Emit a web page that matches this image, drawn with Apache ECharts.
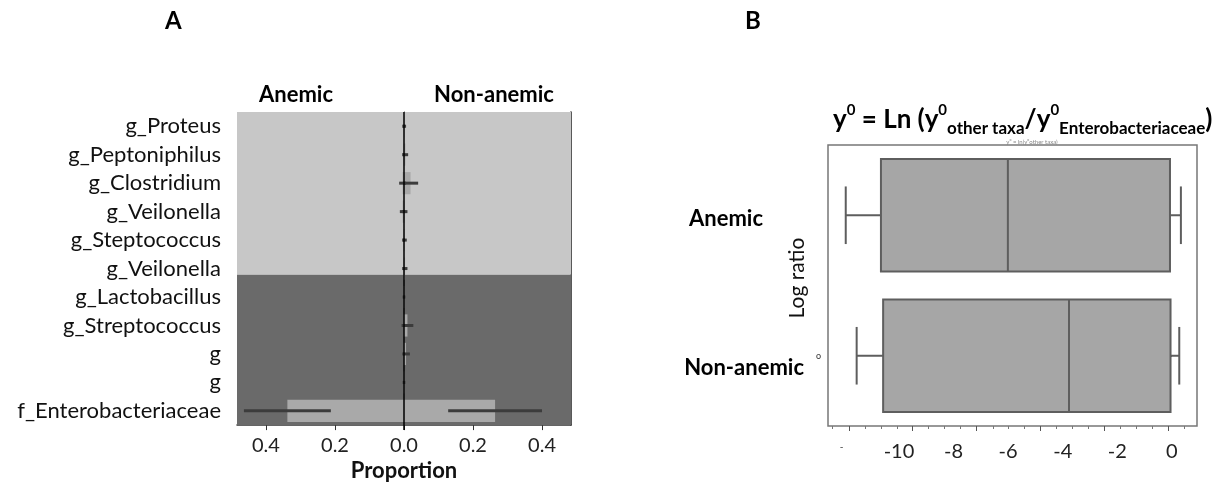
<!DOCTYPE html>
<html>
<head>
<meta charset="utf-8">
<script src="https://cdn.jsdelivr.net/npm/echarts@6/dist/echarts.min.js"></script>
<style>html,body{margin:0;padding:0;background:#fff}#c{width:1228px;height:487px}</style>
</head>
<body>
<div id="c"></div>
<script>
// ---------- Panel A data ----------
var taxa = ['g_Proteus','g_Peptoniphilus','g_Clostridium','g_Veilonella','g_Steptococcus','g_Veilonella','g_Lactobacillus','g_Streptococcus','g','g','f_Enterobacteriaceae'];
var anemicProp = [0.0005, 0.001, 0.004, 0.004, 0.001, 0.001, 0.001, 0.0005, 0.0005, 0.001, 0.338];
var anemicErr  = [0.004, 0.004, 0.010, 0.008, 0.004, 0.004, 0.003, 0.002, 0.002, 0.003, 0.126];
var nonProp    = [0.001, 0.004, 0.019, 0.002, 0.002, 0.003, 0.001, 0.010, 0.006, 0.001, 0.264];
var nonErr     = [0.005, 0.008, 0.022, 0.008, 0.006, 0.007, 0.003, 0.017, 0.011, 0.003, 0.136];
var bgSplit = 5.72;               // light/dark background boundary, in rows from top
var propTicks = [-0.4, -0.2, 0, 0.2, 0.4];

// ---------- Panel B data ----------
var groups = ['Anemic', 'Non-anemic'];
// [low whisker, Q1, median, Q3, high whisker]
var anemicBox = [-11.95, -10.66, -6.01, -0.07, 0.33];
var nonBox    = [-11.55, -10.58, -3.77, -0.05, 0.27];
var logTickLabels = [-12.1, -10, -8, -6, -4, -2, 0];
var logMajorTicks = [-11.83, -9.5, -7.15, -4.81, -2.47, -0.13];
var logMinorTicks = [-12.44, -11.24, -10.66, -10.07, -8.91, -8.33, -7.74, -6.56, -5.98, -5.40, -4.22, -3.64, -3.05, -1.88, -1.30, -0.71, 0.46];

var FONT = 'Lato';
var chart = echarts.init(document.getElementById('c'), null, {renderer: 'canvas'});

var barData = taxa.map(function (t, i) { return [i, anemicProp[i], anemicErr[i], nonProp[i], nonErr[i]]; });
var boxData = [[0].concat(anemicBox), [1].concat(nonBox)];

function renderBg(params, api) {
  var cs = params.coordSys;
  var band = api.size([0, 1])[1];
  var split = cs.y + bgSplit * band;
  return {type: 'group', children: [
    {type: 'rect', shape: {x: cs.x, y: cs.y, width: cs.width, height: split - cs.y}, style: {fill: '#c7c7c7'}},
    {type: 'rect', shape: {x: cs.x, y: split, width: cs.width, height: cs.y + cs.height - split}, style: {fill: '#6a6a6a'}}
  ]};
}

function renderBars(params, api) {
  var row = api.value(0);
  var a = api.value(1), ae = api.value(2), n = api.value(3), ne = api.value(4);
  var c = api.coord([0, row]);
  var band = api.size([0, 1])[1];
  var h = band * 0.78;
  var x0 = c[0], y = c[1];
  var xa = api.coord([-a, row])[0];
  var xn = api.coord([n, row])[0];
  var errStyle = {stroke: '#3c3c3c', lineWidth: 3};
  var ch = [
    {type: 'rect', shape: {x: xa, y: y - h / 2, width: x0 - xa, height: h}, style: {fill: '#a9a9a9'}},
    {type: 'rect', shape: {x: x0, y: y - h / 2, width: xn - x0, height: h}, style: {fill: '#a9a9a9'}},
    {type: 'line', shape: {x1: api.coord([-(a + ae), row])[0], y1: y, x2: api.coord([-(a - ae), row])[0], y2: y}, style: errStyle},
    {type: 'line', shape: {x1: api.coord([n - ne, row])[0], y1: y, x2: api.coord([n + ne, row])[0], y2: y}, style: errStyle}
  ];
  return {type: 'group', children: ch};
}

function renderZero(params, api) {
  var cs = params.coordSys;
  var x = api.coord([0, 0])[0];
  return {type: 'line', shape: {x1: x, y1: cs.y, x2: x, y2: cs.y + cs.height + 5}, style: {stroke: '#000', lineWidth: 1.5}};
}

function renderBox(params, api) {
  var row = api.value(0);
  var lo = api.value(1), q1 = api.value(2), md = api.value(3), q3 = api.value(4), hi = api.value(5);
  var y = api.coord([0, row])[1];
  var band = api.size([0, 1])[1];
  var h = band * 0.8, cap = band * 0.41;
  var X = function (v) { return api.coord([v, row])[0]; };
  var st = {stroke: '#5e5e5e', lineWidth: 2};
  return {type: 'group', children: [
    {type: 'line', shape: {x1: X(lo), y1: y, x2: X(q1), y2: y}, style: st},
    {type: 'line', shape: {x1: X(q3), y1: y, x2: X(hi), y2: y}, style: st},
    {type: 'line', shape: {x1: X(lo), y1: y - cap / 2, x2: X(lo), y2: y + cap / 2}, style: st},
    {type: 'line', shape: {x1: X(hi), y1: y - cap / 2, x2: X(hi), y2: y + cap / 2}, style: st},
    {type: 'rect', shape: {x: X(q1), y: y - h / 2, width: X(q3) - X(q1), height: h}, style: {fill: '#a6a6a6', stroke: '#5e5e5e', lineWidth: 2}},
    {type: 'line', shape: {x1: X(md), y1: y - h / 2, x2: X(md), y2: y + h / 2}, style: st}
  ]};
}

var option = {
  animation: false,
  textStyle: {fontFamily: FONT},
  grid: [
    {left: 237, right: 657, top: 112, bottom: 60},
    {left: 828, right: 31, top: 145, bottom: 61, show: true, borderColor: '#777', borderWidth: 1.5, backgroundColor: '#fff'}
  ],
  xAxis: [
    {type: 'value', gridIndex: 0, min: -0.484, max: 0.484,
     splitLine: {show: false},
     axisLine: {show: true, onZero: false, lineStyle: {color: '#333', width: 1.5}},
     axisTick: {show: true, customValues: propTicks, length: 5, lineStyle: {color: '#333'}},
     axisLabel: {customValues: propTicks, margin: 10, fontSize: 20, color: '#222', fontFamily: FONT,
                 formatter: function (v) { return Math.abs(v).toFixed(1); }},
     name: 'Proportion', nameLocation: 'middle', nameGap: 32,
     nameTextStyle: {fontSize: 22, fontWeight: 'bold', color: '#111', fontFamily: FONT}},
    {type: 'value', gridIndex: 1, min: -12.6, max: 0.92,
     splitLine: {show: false}, axisLine: {show: false},
     axisTick: {show: true, customValues: logMajorTicks, length: 5, lineStyle: {color: '#555'}},
     axisLabel: {customValues: logTickLabels, margin: 16, fontSize: 20, color: '#222', fontFamily: FONT,
                 formatter: function (v) { return v < -11 ? '{s|-}' : String(v); },
                 rich: {s: {fontSize: 10, color: '#333', padding: [0, 0, 10, 0]}}}},
    {type: 'value', gridIndex: 1, min: -12.6, max: 0.92, position: 'bottom',
     splitLine: {show: false}, axisLine: {show: false}, axisLabel: {show: false},
     axisTick: {show: true, customValues: logMinorTicks, length: 3, lineStyle: {color: '#777'}}}
  ],
  yAxis: [
    {type: 'category', gridIndex: 0, data: taxa, inverse: true,
     axisLine: {show: true, lineStyle: {color: '#444', width: 1}},
     axisTick: {show: true, alignWithLabel: true, interval: 0, length: 4, lineStyle: {color: '#444'}},
     axisLabel: {interval: 0, hideOverlap: false, margin: 16, fontSize: 22, color: '#111', fontFamily: FONT}},
    {type: 'category', gridIndex: 0, data: taxa, inverse: true, position: 'right',
     axisLine: {show: true, lineStyle: {color: '#222', width: 1.5}},
     axisTick: {show: false}, axisLabel: {show: false}},
    {type: 'category', gridIndex: 1, data: groups, inverse: true,
     axisLine: {show: false},
     axisTick: {show: true, alignWithLabel: true, length: 3, lineStyle: {color: '#555'}},
     axisLabel: {margin: 7, fontSize: 9, color: '#333', fontFamily: FONT,
                 formatter: function (v) { return v === 'Non-anemic' ? 'o' : ''; }}}
  ],
  series: [
    {type: 'custom', xAxisIndex: 0, yAxisIndex: 0, renderItem: renderBg, data: [[0, 0]], silent: true, z: 1},
    {type: 'custom', xAxisIndex: 0, yAxisIndex: 0, renderItem: renderBars, data: barData,
     encode: {x: [1, 3], y: 0}, silent: true, z: 2},
    {type: 'custom', xAxisIndex: 0, yAxisIndex: 0, renderItem: renderZero, data: [[0, 0]], silent: true, z: 3, clip: false},
    {type: 'custom', xAxisIndex: 1, yAxisIndex: 2, renderItem: renderBox, data: boxData,
     encode: {x: [1, 2, 3, 4, 5], y: 0}, silent: true, z: 2}
  ],
  graphic: [
    {type: 'text', left: 165, top: 9, style: {text: 'A', fontSize: 24, fontWeight: 'bold', fill: '#000', fontFamily: FONT}},
    {type: 'text', left: 745, top: 9, style: {text: 'B', fontSize: 24, fontWeight: 'bold', fill: '#000', fontFamily: FONT}},
    {type: 'text', x: 296, y: 95, style: {text: 'Anemic', fontSize: 22, fontWeight: 'bold', fill: '#000', fontFamily: FONT, align: 'center', verticalAlign: 'middle'}},
    {type: 'text', x: 494, y: 95, style: {text: 'Non-anemic', fontSize: 22, fontWeight: 'bold', fill: '#000', fontFamily: FONT, align: 'center', verticalAlign: 'middle'}},
    {type: 'text', x: 726, y: 219, style: {text: 'Anemic', fontSize: 22, fontWeight: 'bold', fill: '#000', fontFamily: FONT, align: 'center', verticalAlign: 'middle'}},
    {type: 'text', x: 804, y: 368, style: {text: 'Non-anemic', fontSize: 22, fontWeight: 'bold', fill: '#000', fontFamily: FONT, align: 'right', verticalAlign: 'middle'}},
    {type: 'text', x: 797, y: 278, rotation: Math.PI / 2, style: {text: 'Log ratio', fontSize: 21, fill: '#111', fontFamily: FONT, align: 'center', verticalAlign: 'middle'}},
    {type: 'text', x: 1032, y: 142, style: {text: 'y⁰ = ln(y⁰other taxa)', fontSize: 6, fill: '#888', fontFamily: FONT, align: 'center', verticalAlign: 'middle'}},
    {type: 'text', x: 833, y: 120, style: {
      text: '{m|y}{p|0}{m| = Ln (y}{p|0}{b|other taxa}{m|/y}{p|0}{b|Enterobacteriaceae}{m|)}',
      verticalAlign: 'middle', fontFamily: FONT,
      rich: {
        m: {fontSize: 26, fontWeight: 'bold', fill: '#000', lineHeight: 34, verticalAlign: 'middle', fontFamily: FONT},
        p: {fontSize: 15, fontWeight: 'bold', fill: '#000', lineHeight: 16, verticalAlign: 'top', fontFamily: FONT},
        b: {fontSize: 17, fontWeight: 'bold', fill: '#000', lineHeight: 16, verticalAlign: 'bottom', fontFamily: FONT}
      }}}
  ]
};
chart.setOption(option);
</script>
</body>
</html>
